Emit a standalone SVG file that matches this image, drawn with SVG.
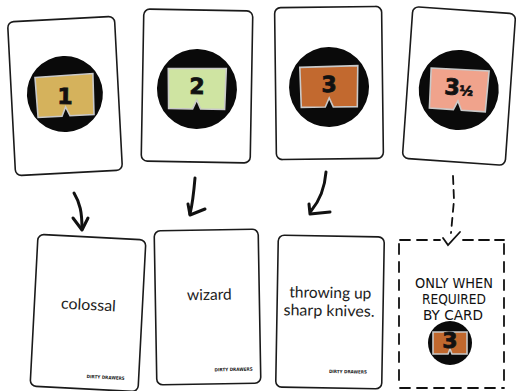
<svg xmlns="http://www.w3.org/2000/svg" width="516" height="391" viewBox="0 0 516 391">
<style>
.card{fill:#fff;stroke:#1a1a1a;stroke-width:1.6}
.disc{fill:#0a0a0a}
.panel{stroke:#c9c9c9;stroke-width:1.6;stroke-linejoin:miter}
.num{font-family:"DejaVu Sans",sans-serif;font-weight:bold;font-size:22px;fill:#111;stroke:#111;stroke-width:0.8;text-anchor:middle}
.word{font-family:"Lato","Noto Sans",sans-serif;font-size:15.5px;fill:#222;text-anchor:middle}
.foot{font-family:"DejaVu Sans",sans-serif;font-weight:bold;font-size:4.6px;fill:#222;text-anchor:middle}
.hand{font-family:"DejaVu Sans",sans-serif;font-size:14.5px;fill:#111;text-anchor:middle}
.arr{fill:none;stroke:#111;stroke-width:3;stroke-linecap:round;stroke-linejoin:round}
.dash{fill:none;stroke:#111;stroke-width:1.8;stroke-linecap:round}
</style>
<defs>
<path id="pnl" d="M-29,-20 L29,-21 L28,20 L4,20 L0,11 L-4,20 L-28,20 Z"/>
<path id="spnl" d="M-17,-11 L17,-11 L17,11 L2,11 L0,6 L-2,11 L-17,11 Z"/>
</defs>

<g id="card-1" transform="translate(65,96) rotate(-3)">
<rect class="card" x="-53.5" y="-77" width="107" height="154" rx="6"/>
<circle class="disc" cx="0" cy="-2" r="38"/>
<use href="#pnl" class="panel" fill="#d5b25c"/>
<text class="num" x="0" y="8" transform="rotate(4)">1</text>
</g>

<g id="card-2" transform="translate(197,86) rotate(1)">
<rect class="card" x="-54.5" y="-76" width="109" height="152" rx="6"/>
<circle class="disc" cx="0" cy="3" r="40"/>
<use href="#pnl" class="panel" fill="#cfe4a2" transform="translate(0,3)"/>
<text class="num" x="0" y="8">2</text>
</g>

<g id="card-3" transform="translate(329,83) rotate(-0.7)">
<rect class="card" x="-53.5" y="-76" width="107" height="152" rx="6"/>
<circle class="disc" cx="0" cy="4" r="40"/>
<use href="#pnl" class="panel" fill="#c2692f" transform="translate(0,4)"/>
<text class="num" x="0" y="9">3</text>
</g>

<g id="card-4" transform="translate(459,86) rotate(4)">
<rect class="card" x="-51.5" y="-76" width="103" height="152" rx="6"/>
<circle class="disc" cx="0" cy="4" r="40"/>
<use href="#pnl" class="panel" fill="#f0a38c" transform="translate(0,4)"/>
<text class="num" x="0" y="9">3<tspan font-size="13">½</tspan></text>
</g>

<g id="card-colossal" transform="translate(88,313) rotate(3)">
<rect class="card" x="-54" y="-76" width="108" height="152" rx="6"/>
<text class="word" x="0" y="-3" textLength="55" lengthAdjust="spacingAndGlyphs">colossal</text>
<text class="foot" x="21" y="65" textLength="38" lengthAdjust="spacingAndGlyphs">DIRTY DRAWERS</text>
</g>

<g id="card-wizard" transform="translate(207.5,307) rotate(-1)">
<rect class="card" x="-52" y="-77" width="104" height="154" rx="6"/>
<text class="word" x="2" y="-7" textLength="45" lengthAdjust="spacingAndGlyphs">wizard</text>
<text class="foot" x="25" y="64.5" textLength="38" lengthAdjust="spacingAndGlyphs">DIRTY DRAWERS</text>
</g>

<g id="card-throwing" transform="translate(330,312) rotate(1)">
<rect class="card" x="-53" y="-76" width="106" height="152" rx="6"/>
<text class="word" x="0" y="-14" textLength="82" lengthAdjust="spacingAndGlyphs">throwing up</text>
<text class="word" x="-1" y="4" textLength="91" lengthAdjust="spacingAndGlyphs">sharp knives.</text>
<text class="foot" x="19" y="61" textLength="38" lengthAdjust="spacingAndGlyphs">DIRTY DRAWERS</text>
</g>

<g id="optional-card">
<path class="dash" stroke-dasharray="10 7" d="M400,240 L440,240"/>
<path class="dash" stroke-dasharray="10 6" d="M463,240 L504,240"/>
<path class="dash" stroke-dasharray="10 8" d="M399,244 L399,388"/>
<path class="dash" stroke-dasharray="10 8" d="M504,244 L504,388"/>
<path class="dash" stroke-dasharray="10 7" d="M400,388 L504,388"/>
<text class="hand" x="454" y="288" textLength="78" lengthAdjust="spacingAndGlyphs">ONLY WHEN</text>
<text class="hand" x="454" y="304" textLength="64" lengthAdjust="spacingAndGlyphs">REQUIRED</text>
<text class="hand" x="453" y="320" textLength="60" lengthAdjust="spacingAndGlyphs">BY CARD</text>
<circle class="disc" cx="450" cy="343" r="22"/>
<use href="#spnl" class="panel" fill="#c0682e" stroke-width="1" transform="translate(450,343)"/>
<text class="num" x="450" y="348" font-size="13" stroke-width="0.4">3</text>
</g>

<g id="connectors">
<path class="arr" d="M74,193 C80,203 82,212 82,229"/>
<path class="arr" d="M73,218 L82,230 L88,218"/>
<path class="arr" d="M195,178 C194,190 193,202 190,214"/>
<path class="arr" d="M188,204 L190,215 L205,209"/>
<path class="arr" d="M326,172 C325,185 322,198 311,211"/>
<path class="arr" d="M309,204 L310,214 L330,212"/>
<path class="dash" stroke-width="2" stroke-dasharray="8 6" d="M453,176 L454,200 L451,233"/>
<path class="dash" stroke-width="2" d="M443,238 L448,245 L460,232"/>
</g>
</svg>
